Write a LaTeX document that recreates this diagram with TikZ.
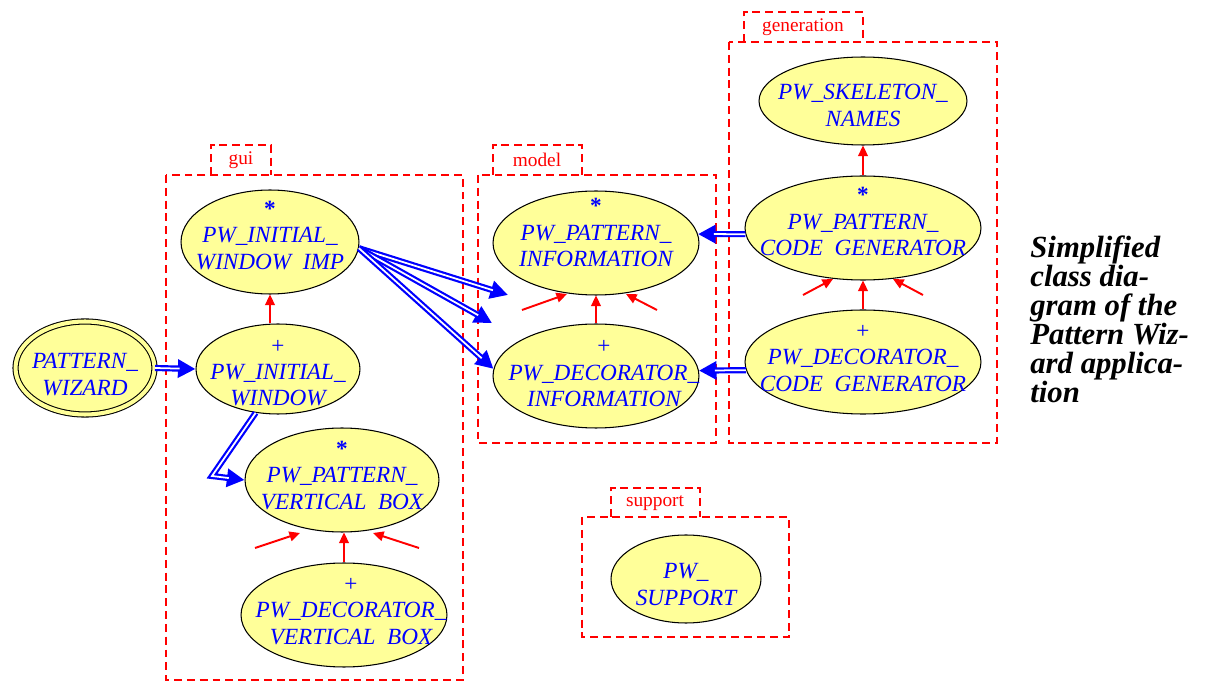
\documentclass[tikz,border=0pt]{standalone}
\usepackage{fontspec}
\setmainfont{Liberation Serif}
\usepackage{xcolor}
\usepackage{tikz}
\usetikzlibrary{arrows.meta,shapes.geometric}
\definecolor{ClassYellow}{HTML}{FFFF99}
\definecolor{ClassBlue}{HTML}{0000FF}
\definecolor{PkgRed}{HTML}{FF0000}
\newcommand{\clsname}[3][0pt]{\makebox[0pt]{\hspace*{#1}\smash{\raisebox{#2}{\begin{tabular}{@{}c@{}}#3\end{tabular}}}}}

\begin{document}
\begin{tikzpicture}[x=0.02cm,y=-0.02cm,
  cls/.style={ellipse,draw=black,line width=0.6pt,fill=ClassYellow,inner sep=0pt,
    text=ClassBlue,font=\fontsize{13.2}{15}\selectfont\itshape},
  pkg/.style={draw=PkgRed,line width=1.7pt,dash pattern=on 4.5pt off 2.8pt},
  pkglabel/.style={text=PkgRed,font=\fontsize{11}{13}\selectfont,inner sep=0pt},
  inh/.style={draw=PkgRed,line width=1.1pt,-{Triangle[length=6pt,width=5.5pt]}},
  cli/.style={draw=ClassBlue,line width=3.5pt,-{Triangle[length=10pt,width=10pt]},
    postaction={draw=white,line width=1pt,-,shorten >=9pt}},
  caption/.style={align=left,inner sep=0pt,font=\fontsize{17.5}{16.4}\selectfont\bfseries\itshape}]
\useasboundingbox (0,0) rectangle (1205,682);

\draw[pkg] (166,175) rectangle (463,680);
\draw[pkg] (211,175) -- (211,145) -- (271,145) -- (271,175);
\node[pkglabel] (guitab) at (241,160) {gui};
\draw[pkg] (478,175) rectangle (716,443);
\draw[pkg] (493,175) -- (493,145) -- (582,145) -- (582,175);
\node[pkglabel] (modeltab) at (537,160) {model};
\draw[pkg] (729,42) rectangle (997,443);
\draw[pkg] (744,42) -- (744,12) -- (863,12) -- (863,42);
\node[pkglabel] (gentab) at (803,27) {generation};
\draw[pkg] (582,517) rectangle (789,637);
\draw[pkg] (611,517) -- (611,488) -- (700,488) -- (700,517);
\node[pkglabel] (suptab) at (655,503) {support};

\node[cls,double=ClassYellow,double distance=2.3pt,minimum width=2.78cm,minimum height=1.86cm] (wiz) at (85,368) {\clsname{-8pt}{PATTERN\_\\WIZARD}};
\node[cls,minimum width=3.56cm,minimum height=2.08cm] (iwimp) at (270,242) {\clsname{-0.5pt}{\textup{\textbf{*}}\\PW\_INITIAL\_\\WINDOW\hphantom{\_}IMP}};
\node[cls,minimum width=3.28cm,minimum height=1.80cm] (iwin) at (278,369) {\clsname{-6pt}{\textup{+}\\PW\_INITIAL\_\\WINDOW}};
\node[cls,minimum width=3.88cm,minimum height=2.08cm] (pvb) at (342,480) {\clsname{-1.7pt}{\textup{\textbf{*}}\\PW\_PATTERN\_\\VERTICAL\hphantom{\_}BOX}};
\node[cls,minimum width=4.12cm,minimum height=2.08cm] (dvb) at (344,615) {\clsname[8pt]{-1.7pt}{\textup{+}\\PW\_DECORATOR\_\\VERTICAL\hphantom{\_}BOX}};
\node[cls,minimum width=4.12cm,minimum height=2.08cm] (pinf) at (596,243) {\clsname{1.7pt}{\textup{\textbf{*}}\\PW\_PATTERN\_\\INFORMATION}};
\node[cls,minimum width=4.12cm,minimum height=2.08cm] (dinf) at (596,376) {\clsname[9pt]{-2.3pt}{\textup{+}\\PW\_DECORATOR\_\\INFORMATION}};
\node[cls,minimum width=4.16cm,minimum height=1.76cm] (skel) at (863,101) {\clsname{-6.8pt}{PW\_SKELETON\_\\NAMES}};
\node[cls,minimum width=4.72cm,minimum height=2.08cm] (pcg) at (863,228) {\clsname{-0.6pt}{\textup{\textbf{*}}\\PW\_PATTERN\_\\CODE\hphantom{\_}GENERATOR}};
\node[cls,minimum width=4.72cm,minimum height=2.08cm] (dcg) at (863,362) {\clsname{-1.7pt}{\textup{+}\\PW\_DECORATOR\_\\CODE\hphantom{\_}GENERATOR}};
\node[cls,minimum width=3.00cm,minimum height=1.76cm] (sup) at (686,579) {\clsname{-7.4pt}{PW\_\\SUPPORT}};

\node[caption,anchor=north west] (cap) at (1030,236) {Simplified\\class dia-\\gram of the\\Pattern Wiz-\\ard applica-\\tion};

\coordinate (pvbL) at (255,548); \coordinate (pvbLt) at (300,533);
\coordinate (pvbR) at (419,548); \coordinate (pvbRt) at (373,533);
\coordinate (pinfL) at (522,310); \coordinate (pinfLt) at (567,294);
\coordinate (pinfR) at (657,310); \coordinate (pinfRt) at (626,294);
\coordinate (pcgL) at (803,295); \coordinate (pcgLt) at (833,279);
\coordinate (pcgR) at (923,295); \coordinate (pcgRt) at (893,279);
\coordinate (tipA) at (508,295); \coordinate (tipB) at (492,323);
\coordinate (bend) at (212,476);

\draw[inh] (iwimp.south |- iwin.north) -- (iwimp.south);
\draw[inh] (dvb.north) -- (dvb.north |- pvb.south);
\draw[inh] (pvbL) -- (pvbLt);
\draw[inh] (pvbR) -- (pvbRt);
\draw[inh] (dinf.north) -- (pinf.south);
\draw[inh] (pinfL) -- (pinfLt);
\draw[inh] (pinfR) -- (pinfRt);
\draw[inh] (dcg.north) -- (pcg.south);
\draw[inh] (pcgL) -- (pcgLt);
\draw[inh] (pcgR) -- (pcgRt);
\draw[inh] (pcg.north) -- (skel.south);

\draw[cli] (wiz.east) -- (iwin.west);
\draw[cli] (iwin.243) -- (bend) -- (pvb.west);
\draw[cli] (iwimp.-4) -- (tipA);
\draw[cli] (iwimp.-4) -- (tipB);
\draw[cli] (iwimp.-4) -- (dinf.176);
\draw[cli] (pcg.183) -- (pinf.5);
\draw[cli] (dcg.184) -- (dinf.3);
\end{tikzpicture}
\end{document}
